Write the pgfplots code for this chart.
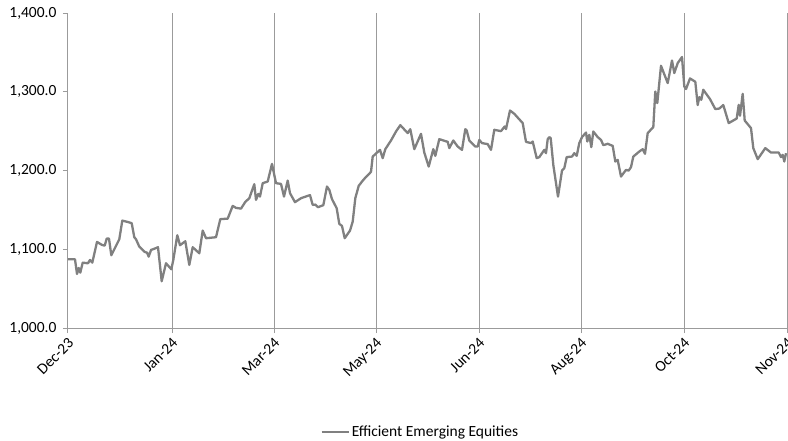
\documentclass[border=0pt]{standalone}
\usepackage{fontspec}
\setmainfont{Carlito}
\usepackage{pgfplots}
\pgfplotsset{compat=1.18}
\definecolor{linegray}{RGB}{128,128,128}
\definecolor{gridgray}{RGB}{155,155,155}
\begin{document}
\begin{tikzpicture}
\path[use as bounding box] (-68pt,-112pt) rectangle (720pt,328pt);
\begin{axis}[
  at={(0,0)}, anchor=south west,
  scale only axis, width=719pt, height=315pt,
  xmin=0, xmax=719, ymin=1000, ymax=1400,
  axis x line*=bottom, axis y line*=left,
  axis line style={gridgray, line width=1pt},
  xtick={0,104,206,308,411,513,616,719},
  xticklabels={Dec-23,Jan-24,Mar-24,May-24,Jun-24,Aug-24,Oct-24,Nov-24},
  x tick label style={rotate=45, anchor=north east, inner sep=2pt, xshift=-1pt, font=\fontsize{15.5}{17}\selectfont},
  ytick={1000,1100,1200,1300,1400},
  yticklabels={{1,000.0},{1,100.0},{1,200.0},{1,300.0},{1,400.0}},
  y tick label style={xshift=-3pt, font=\fontsize{15.5}{17}\selectfont},
  tick align=outside, major tick length=5pt,
  tick style={gridgray, line width=1pt},
  xmajorgrids, major grid style={gridgray, line width=1pt},
  legend style={at={(0.49,-0.33)}, anchor=center, draw=none, font=\fontsize{15.5}{17}\selectfont},
  legend cell align=left,
  legend image code/.code={\draw[#1] (0pt,0pt) -- (27pt,0pt);},
]
\addplot[linegray, line width=2.3pt, line join=round] coordinates {
(0,1087.3)(7,1087.3)(9,1068.6)(10.7,1076.3)(12.3,1070.3)(14.7,1083.0)(20,1082.2)(22,1086.4)
(24.3,1083.0)(29,1109.3)(34,1105.5)(36.7,1104.6)(38.7,1113.5)(41,1113.5)(43.3,1092.4)(51.3,1112.7)
(54.3,1136.4)(59.7,1134.7)(63.7,1133.1)(66.3,1115.3)(68,1112.7)(71.3,1103.3)(76.7,1096.6)(79,1095.7)
(80.7,1090.6)(83,1099.1)(86.7,1100.8)(90,1102.6)(93.7,1059.4)(98,1082.2)(103.3,1074.6)(105.3,1086.4)
(109.3,1117.8)(112,1105.1)(117.3,1110.2)(121.3,1080.1)(124.7,1102.6)(131.3,1094.9)(134.7,1123.7)(138,1114.0)
(148,1115.3)(152.3,1138.2)(159.7,1138.9)(164.7,1155.1)(168,1152.5)(173,1151.6)(177.3,1160.1)(181.3,1164.8)
(186.3,1182.6)(188,1162.7)(190.3,1170.3)(192,1166.9)(194.7,1183.9)(199.7,1186.0)(204,1208.4)(208,1183.9)
(213,1183.0)(216,1166.9)(219.7,1187.2)(222,1171.2)(227,1159.8)(233,1164.8)(239.7,1167.8)(242,1168.7)
(244.7,1156.3)(247.3,1156.7)(250,1153.4)(255.3,1156.0)(259,1179.6)(261.3,1175.4)(264,1163.6)(268.7,1152.1)
(271.3,1132.2)(274,1129.6)(276.7,1114.0)(282,1123.7)(284.7,1135.1)(287.3,1164.8)(290.7,1180.5)(295.3,1188.1)
(303,1198.3)(304.7,1217.7)(312,1226.2)(314.7,1215.7)(317.3,1227.1)(323,1238.1)(328,1249.5)(332.3,1257.6)
(339.7,1247.5)(342.3,1252.5)(346.3,1227.1)(353,1246.6)(356.3,1222.8)(360.7,1205.0)(365.3,1227.1)(367.3,1218.6)
(371.3,1239.8)(379.7,1236.4)(381.3,1228.4)(385.3,1238.1)(389.7,1230.4)(394,1226.2)(397.3,1252.5)(398.7,1250.8)
(401.3,1238.1)(407.3,1230.4)(409.7,1230.4)(411.3,1238.9)(414,1234.8)(419.7,1233.5)(423,1226.2)(426.3,1251.7)
(433,1250.0)(436.7,1255.9)(438,1252.5)(442,1276.2)(446.3,1272.0)(454.7,1260.2)(458,1236.4)(463,1234.8)
(464.7,1236.8)(468.7,1215.7)(471.3,1217.0)(476.3,1226.2)(478,1222.0)(479.7,1239.8)(481.3,1242.4)(482.7,1241.1)
(485.3,1207.2)(490,1166.9)(494,1199.9)(496.3,1203.0)(498.7,1217.0)(504,1217.7)(506.3,1222.0)(508.7,1218.6)
(511.3,1234.8)(514,1242.4)(518,1248.2)(519.3,1236.8)(521.3,1245.3)(523.3,1229.7)(525.3,1249.5)(529.7,1242.4)
(533,1238.9)(535.3,1232.2)(539.7,1233.9)(544.7,1231.3)(547.3,1211.4)(549.7,1213.5)(553,1192.3)(558,1200.8)
(560.7,1199.9)(563,1204.3)(565.3,1217.7)(571.3,1224.1)(574.7,1227.1)(577,1221.2)(579.7,1247.5)(585.3,1255.1)
(587.3,1300.3)(589.3,1285.6)(593,1333.0)(599.7,1311.0)(604,1339.7)(606.3,1323.7)(609.7,1336.4)(614,1344.1)
(616.3,1306.7)(618,1303.4)(622,1316.9)(627.3,1312.7)(629.7,1283.1)(631.3,1293.2)(633.3,1289.8)(635.3,1302.5)
(642,1290.7)(647.3,1278.0)(651.3,1278.7)(655.3,1283.1)(660.7,1260.2)(668.7,1266.0)(670.7,1283.4)(672,1269.5)
(674.7,1297.4)(676.7,1263.5)(683,1253.8)(685.3,1228.4)(689.7,1214.4)(697.3,1228.4)(703,1222.8)(710.7,1222.8)
(713,1217.0)(714.7,1219.9)(716.3,1211.4)(718,1222.0)
};
\addlegendentry{Efficient Emerging Equities}
\end{axis}
\end{tikzpicture}
\end{document}
